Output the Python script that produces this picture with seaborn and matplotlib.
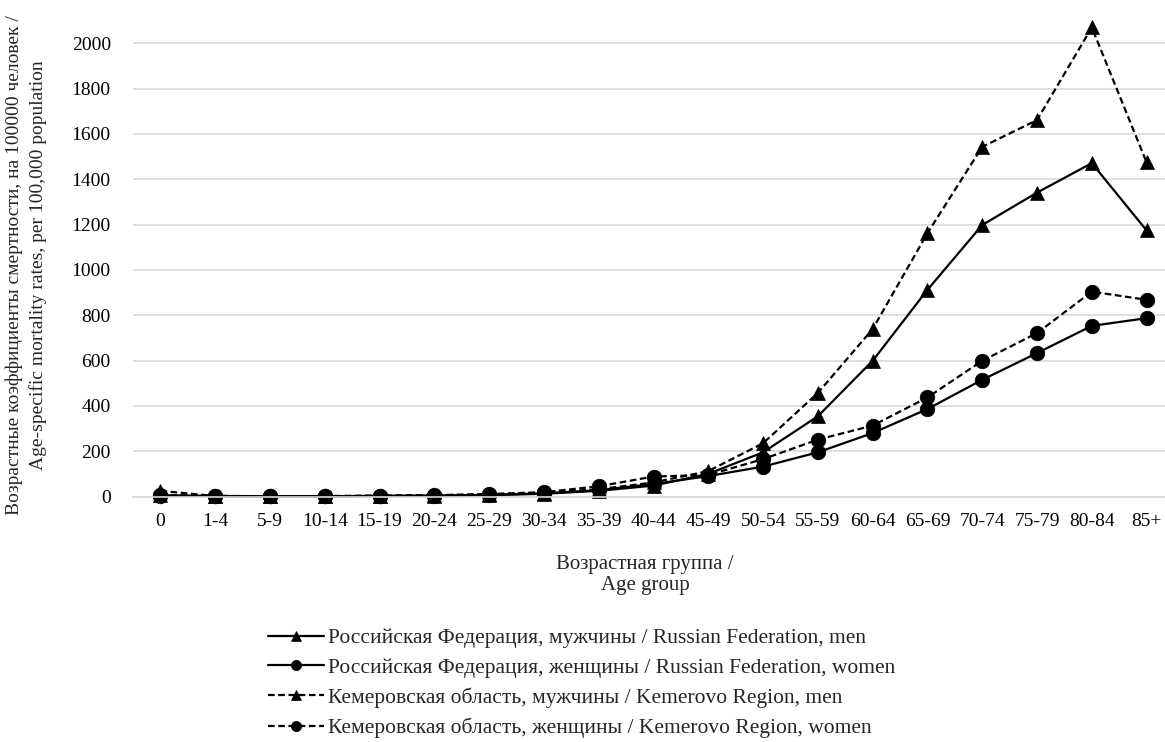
import numpy as np
import pandas as pd
import matplotlib
matplotlib.use("Agg")
import matplotlib.pyplot as plt
import seaborn as sns

# Age groups and age-specific mortality rates per 100,000 population
age_groups = ["0", "1-4", "5-9", "10-14", "15-19", "20-24", "25-29", "30-34",
              "35-39", "40-44", "45-49", "50-54", "55-59", "60-64", "65-69",
              "70-74", "75-79", "80-84", "85+"]

rf_men = [5, 2, 1, 1, 2, 3, 6, 12, 25, 48, 100, 195, 354, 599, 912, 1198, 1341, 1471, 1174]
rf_women = [4, 2, 1, 1, 3, 4, 7, 14, 28, 55, 90, 132, 195, 280, 386, 515, 633, 753, 787]
kem_men = [25, 2, 1, 1, 3, 5, 9, 17, 32, 62, 112, 235, 457, 739, 1162, 1543, 1661, 2070, 1474]
kem_women = [6, 3, 1, 2, 4, 6, 11, 19, 45, 88, 95, 165, 251, 313, 437, 599, 721, 904, 868]

series_names = [
    "Российская Федерация, мужчины / Russian Federation, men",
    "Российская Федерация, женщины / Russian Federation, women",
    "Кемеровская область, мужчины / Kemerovo Region, men",
    "Кемеровская область, женщины / Kemerovo Region, women",
]
series_values = [rf_men, rf_women, kem_men, kem_women]

df = pd.DataFrame({
    "age": age_groups * len(series_names),
    "rate": np.concatenate(series_values),
    "series": np.repeat(series_names, len(age_groups)),
})

sns.set_theme(style="white")
plt.rcParams["font.family"] = ["Liberation Serif", "DejaVu Serif"]
FS_TICK = 14
FS_YLABEL = 14
FS_XLABEL = 15
FS_LEGEND = 15.5

W, H = 1165, 742
fig = plt.figure(figsize=(W / 100, H / 100), dpi=100)
ax = fig.add_axes([133 / W, 1 - 496.5 / H, 1041 / W, 496.5 / H])

markers = {series_names[0]: "^", series_names[1]: "o",
           series_names[2]: "^", series_names[3]: "o"}
dashes = {series_names[0]: "", series_names[1]: "",
          series_names[2]: (3, 1.6), series_names[3]: (3, 1.6)}
palette = {n: "black" for n in series_names}

sns.lineplot(data=df, x="age", y="rate", hue="series", style="series",
             hue_order=series_names, style_order=series_names,
             palette=palette, markers=markers, dashes=dashes,
             sort=False, linewidth=1.6, markersize=10.5,
             markeredgecolor="black", markeredgewidth=0.5,
             clip_on=False, ax=ax, legend=True)

ax.set_xlim(-0.5, 18.5)
ax.set_ylim(0, 2191)
ax.set_yticks(np.arange(0, 2001, 200))
ax.yaxis.grid(True, color="#d9d9d9", linewidth=1.2)
ax.xaxis.grid(False)
ax.set_axisbelow(True)
for side in ["top", "right", "left"]:
    ax.spines[side].set_visible(False)
ax.spines["bottom"].set_color("#d9d9d9")
ax.spines["bottom"].set_linewidth(1.2)
ax.tick_params(axis="both", length=0, labelsize=FS_TICK, colors="black")
ax.tick_params(axis="y", pad=16)
ax.tick_params(axis="x", pad=12)
ax.set_xlabel("")
ax.set_ylabel("")

# Axis titles
fig.text(645 / W, 1 - 575 / H, "Возрастная группа /\nAge group",
         ha="center", va="center", fontsize=FS_XLABEL, linespacing=1.1)
fig.text(26 / W, 1 - 265 / H,
         "Возрастные коэффициенты смертности, на 100000 человек /\n"
         "Age-specific mortality rates, per 100,000 population",
         ha="center", va="center", rotation=90, fontsize=FS_YLABEL,
         linespacing=1.45)

handles, labels = ax.get_legend_handles_labels()
ax.get_legend().remove()
fig.legend(handles, labels, loc="upper left",
           bbox_to_anchor=(268 / W, 1 - 628 / H),
           frameon=False, fontsize=FS_LEGEND, handlelength=2.6,
           handletextpad=0.2, labelspacing=0.45, borderpad=0,
           borderaxespad=0, markerscale=0.7)

fig.savefig("out.png", dpi=100)
